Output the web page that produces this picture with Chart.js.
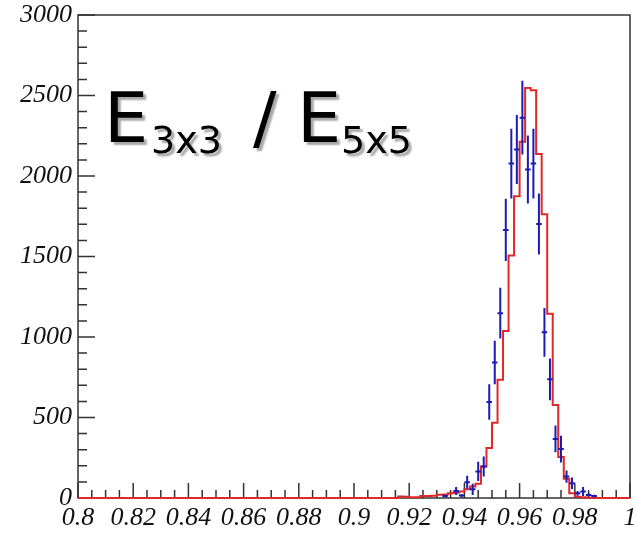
<!DOCTYPE html>
<html>
<head>
<meta charset="utf-8">
<script src="https://cdn.jsdelivr.net/npm/chart.js@4.4.0/dist/chart.umd.min.js"></script>
<style>
html, body { margin: 0; padding: 0; background: #fff; }
</style>
</head>
<body>
<canvas id="ratioChart" width="636" height="537"></canvas>
<script>
// E3x3 / E5x5 : 100 bins of 0.002 from 0.8 to 1.0
var binLow = 0.8;
var binWidth = 0.002;

// simulation (red histogram), one value per bin
var mcCounts = [
    0, 0, 0, 0, 0, 0, 0, 0, 0, 0,
    0, 0, 0, 0, 0, 0, 0, 0, 0, 0,
    0, 0, 0, 0, 0, 0, 0, 0, 0, 0,
    0, 0, 0, 0, 0, 0, 0, 0, 0, 0,
    0, 0, 0, 0, 0, 0, 0, 0, 0, 0,
    0, 0, 0, 0, 0, 0, 0, 0, 10, 8,
    5, 5, 12, 12, 14, 20, 22, 30, 32, 40,
    55, 72, 88, 196, 310, 467, 735, 1038, 1506, 1875,
    2212, 2546, 2533, 2137, 1762, 1144, 578, 255, 120, 30,
    8, 4, 2, 1, 0, 0, 0, 0, 0, 0
];

// data (blue points with error bars)
var dataX = [0.933, 0.937, 0.939, 0.941, 0.943, 0.945, 0.947, 0.949, 0.951, 0.953,
    0.955, 0.957, 0.959, 0.961, 0.963, 0.965, 0.967, 0.969, 0.971, 0.973,
    0.975, 0.977, 0.979, 0.981, 0.983, 0.985, 0.987];
var dataY = [12, 44, 15, 98, 54, 165, 196, 596, 842, 1148,
    1665, 2077, 2165, 2362, 2040, 2077, 1702, 1029, 737, 367,
    304, 133, 92, 29, 40, 19, 12];
var dataErr = [8, 25, 10, 40, 35, 60, 62, 110, 135, 158,
    193, 217, 214, 229, 211, 217, 190, 151, 130, 83,
    83, 38, 36, 15, 28, 10, 8];

var xTickLabels = ["0.8", "0.82", "0.84", "0.86", "0.88", "0.9", "0.92", "0.94", "0.96", "0.98", "1"];
var yTickLabels = ["0", "500", "1000", "1500", "2000", "2500", "3000"];

// step line: left edge of every bin, plus the closing right edge
var mcPoints = [];
for (var i = 0; i < mcCounts.length; i++) {
    mcPoints.push({ x: binLow + i * binWidth, y: mcCounts[i] });
}
mcPoints.push({ x: binLow + mcCounts.length * binWidth, y: mcCounts[mcCounts.length - 1] });

// error crosses as broken line segments
var errPoints = [];
for (var j = 0; j < dataX.length; j++) {
    errPoints.push({ x: dataX[j], y: dataY[j] - dataErr[j] });
    errPoints.push({ x: dataX[j], y: dataY[j] + dataErr[j] });
    errPoints.push({ x: dataX[j], y: null });
    errPoints.push({ x: dataX[j] - binWidth / 2, y: dataY[j] });
    errPoints.push({ x: dataX[j] + binWidth / 2, y: dataY[j] });
    errPoints.push({ x: dataX[j], y: null });
}

var labelFont = { family: "'Liberation Serif', serif", size: 26, style: "italic" };

// frame and inward ticks, ROOT style
var frameTicks = {
    id: "frameTicks",
    beforeDatasetsDraw: function (chart) {
        var ctx = chart.ctx, a = chart.chartArea;
        var xs = chart.scales.x, ys = chart.scales.y;
        ctx.save();
        ctx.strokeStyle = "#333";
        ctx.lineWidth = 1.5;
        ctx.strokeRect(a.left, a.top, a.right - a.left, a.bottom - a.top);
        ctx.beginPath();
        for (var v = 0; v <= 3000; v += 100) {
            var py = ys.getPixelForValue(v);
            var ly = (v % 500 === 0) ? 17 : 9;
            ctx.moveTo(a.left, py);
            ctx.lineTo(a.left + ly, py);
        }
        for (var k = 0; k <= 40; k++) {
            var px = xs.getPixelForValue(binLow + k * 0.005);
            var lx = (k % 4 === 0) ? 15 : 8;
            ctx.moveTo(px, a.bottom);
            ctx.lineTo(px, a.bottom - lx);
        }
        ctx.stroke();
        ctx.restore();
    }
};

// big label E3x3 / E5x5 with a soft shadow
var bigLabel = {
    id: "bigLabel",
    afterDraw: function (chart) {
        var ctx = chart.ctx, a = chart.chartArea;
        var x0 = a.left + 26, base = a.top + 127;
        ctx.save();
        ctx.fillStyle = "#000";
        ctx.shadowColor = "rgba(0,0,0,0.35)";
        ctx.shadowOffsetX = 3;
        ctx.shadowOffsetY = 3;
        ctx.shadowBlur = 2;
        ctx.textBaseline = "alphabetic";
        ctx.textAlign = "left";
        ctx.font = "70px 'DejaVu Sans'";
        ctx.fillText("E", x0, base);
        ctx.fillText("/", x0 + 149, base);
        ctx.fillText("E", x0 + 193, base);
        ctx.font = "38px 'DejaVu Sans'";
        ctx.fillText("3x3", x0 + 47, base + 11);
        ctx.fillText("5x5", x0 + 237, base + 11);
        ctx.restore();
    }
};

new Chart("ratioChart", {
    type: "line",
    data: {
        datasets: [{
            label: "data",
            data: errPoints,
            borderColor: "#1c1cb4",
            borderWidth: 2,
            pointRadius: 0,
            spanGaps: false,
            fill: false
        }, {
            label: "simulation",
            data: mcPoints,
            stepped: true,
            borderColor: "#e02828",
            borderWidth: 2,
            pointRadius: 0,
            fill: false,
            clip: 4
        }]
    },
    options: {
        responsive: false,
        animation: false,
        layout: { padding: { left: 6, top: 15, right: 6, bottom: 0 } },
        plugins: {
            legend: { display: false },
            tooltip: { enabled: false }
        },
        scales: {
            x: {
                type: "linear",
                min: 0.8,
                max: 1.0,
                grid: { display: false, drawTicks: false },
                border: { display: false },
                afterFit: function (s) { s.height = 39; s.paddingLeft = 0; s.paddingRight = 0; },
                ticks: {
                    stepSize: 0.02,
                    autoSkip: false,
                    maxRotation: 0,
                    padding: 5,
                    color: "#111",
                    font: labelFont,
                    callback: function (v, idx) { return xTickLabels[idx]; }
                }
            },
            y: {
                min: 0,
                max: 3000,
                grid: { display: false, drawTicks: false },
                border: { display: false },
                afterFit: function (s) { s.width = 72; s.paddingTop = 0; s.paddingBottom = 0; },
                ticks: {
                    stepSize: 500,
                    padding: 6,
                    color: "#111",
                    font: labelFont,
                    callback: function (v, idx) { return yTickLabels[idx]; }
                }
            }
        }
    },
    plugins: [frameTicks, bigLabel]
});
</script>
</body>
</html>
